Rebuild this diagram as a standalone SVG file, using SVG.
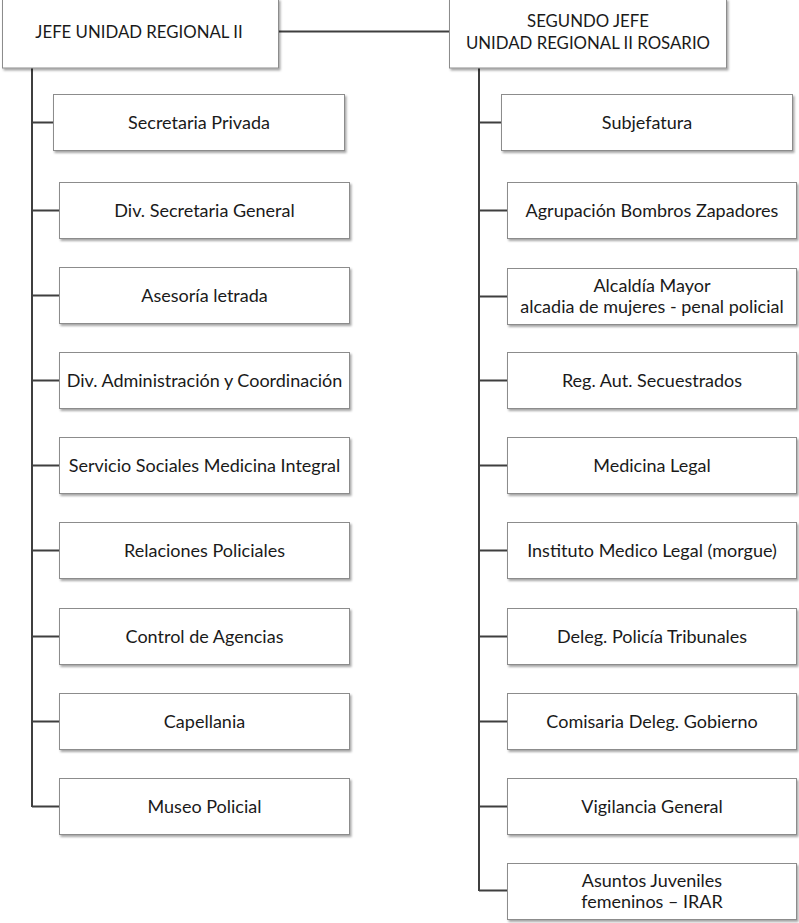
<svg xmlns="http://www.w3.org/2000/svg" width="799" height="923" viewBox="0 0 799 923">
<style>
.box{fill:#fff;stroke:#8c8c8c;stroke-width:1;filter:url(#sh)}
.t{font-family:Lato,"Open Sans",sans-serif;font-size:18px;fill:#1a1a1a;text-anchor:middle}
.h{font-size:16.8px}
.c{stroke:#3f3f3f;stroke-width:2;fill:none}
</style>
<defs>
<filter id="sh" x="-5%" y="-10%" width="110%" height="130%">
<feDropShadow dx="1.5" dy="2" stdDeviation="1.2" flood-color="#000" flood-opacity="0.35"/>
</filter>
</defs>
<g id="connectors">
<path class="c" d="M279 31.5H449"/>
<path class="c" d="M32 68V807M32 122.5H53M32 210.5H59M32 295.5H59M32 380.5H59M32 465.5H59M32 550.5H59M32 636.5H59M32 721.5H59M32 806.5H59"/>
<path class="c" d="M479 68V891M479 122.5H501M479 210.5H507M479 296.5H507M479 380.5H507M479 465.5H507M479 550.5H507M479 636.5H507M479 721.5H507M479 806.5H507M479 890.5H507"/>
</g>
<g id="jefe"><rect class="box" x="2.5" y="-1" width="276" height="69"/><text class="t h" x="139" y="38">JEFE UNIDAD REGIONAL II</text></g>
<g id="segundo"><rect class="box" x="449.5" y="-1" width="277" height="69"/><text class="t h" x="588" y="27">SEGUNDO JEFE</text><text class="t h" x="588" y="49">UNIDAD REGIONAL II ROSARIO</text></g>
<g id="l1"><rect class="box" x="53.5" y="94.5" width="291" height="56"/><text class="t" x="199" y="128.5">Secretaria Privada</text></g>
<g id="l2"><rect class="box" x="59.5" y="182.5" width="290" height="56"/><text class="t" x="204.5" y="216.5">Div. Secretaria General</text></g>
<g id="l3"><rect class="box" x="59.5" y="267.5" width="290" height="56"/><text class="t" x="204.5" y="301.5">Asesoría letrada</text></g>
<g id="l4"><rect class="box" x="59.5" y="352.5" width="290" height="56"/><text class="t" x="204.5" y="386.5">Div. Administración y Coordinación</text></g>
<g id="l5"><rect class="box" x="59.5" y="437.5" width="290" height="56"/><text class="t" x="204.5" y="471.5">Servicio Sociales Medicina Integral</text></g>
<g id="l6"><rect class="box" x="59.5" y="522.5" width="290" height="56"/><text class="t" x="204.5" y="556.5">Relaciones Policiales</text></g>
<g id="l7"><rect class="box" x="59.5" y="608.5" width="290" height="56"/><text class="t" x="204.5" y="642.5">Control de Agencias</text></g>
<g id="l8"><rect class="box" x="59.5" y="693.5" width="290" height="56"/><text class="t" x="204.5" y="727.5">Capellania</text></g>
<g id="l9"><rect class="box" x="59.5" y="778.5" width="290" height="56"/><text class="t" x="204.5" y="812.5">Museo Policial</text></g>
<g id="r1"><rect class="box" x="501.5" y="94.5" width="291" height="56"/><text class="t" x="647" y="128.5">Subjefatura</text></g>
<g id="r2"><rect class="box" x="507.5" y="182.5" width="289" height="56"/><text class="t" x="652" y="216.5">Agrupación Bombros Zapadores</text></g>
<g id="r3"><rect class="box" x="507.5" y="268.5" width="289" height="56"/><text class="t" x="652" y="292">Alcaldía Mayor</text><text class="t" x="652" y="313">alcadia de mujeres - penal policial</text></g>
<g id="r4"><rect class="box" x="507.5" y="352.5" width="289" height="56"/><text class="t" x="652" y="386.5">Reg. Aut. Secuestrados</text></g>
<g id="r5"><rect class="box" x="507.5" y="437.5" width="289" height="56"/><text class="t" x="652" y="471.5">Medicina Legal</text></g>
<g id="r6"><rect class="box" x="507.5" y="522.5" width="289" height="56"/><text class="t" x="652" y="556.5">Instituto Medico Legal (morgue)</text></g>
<g id="r7"><rect class="box" x="507.5" y="608.5" width="289" height="56"/><text class="t" x="652" y="642.5">Deleg. Policía Tribunales</text></g>
<g id="r8"><rect class="box" x="507.5" y="693.5" width="289" height="56"/><text class="t" x="652" y="727.5">Comisaria Deleg. Gobierno</text></g>
<g id="r9"><rect class="box" x="507.5" y="778.5" width="289" height="56"/><text class="t" x="652" y="812.5">Vigilancia General</text></g>
<g id="r10"><rect class="box" x="507.5" y="863.5" width="289" height="56"/><text class="t" x="652" y="887">Asuntos Juveniles</text><text class="t" x="652" y="908">femeninos – IRAR</text></g>
</svg>
